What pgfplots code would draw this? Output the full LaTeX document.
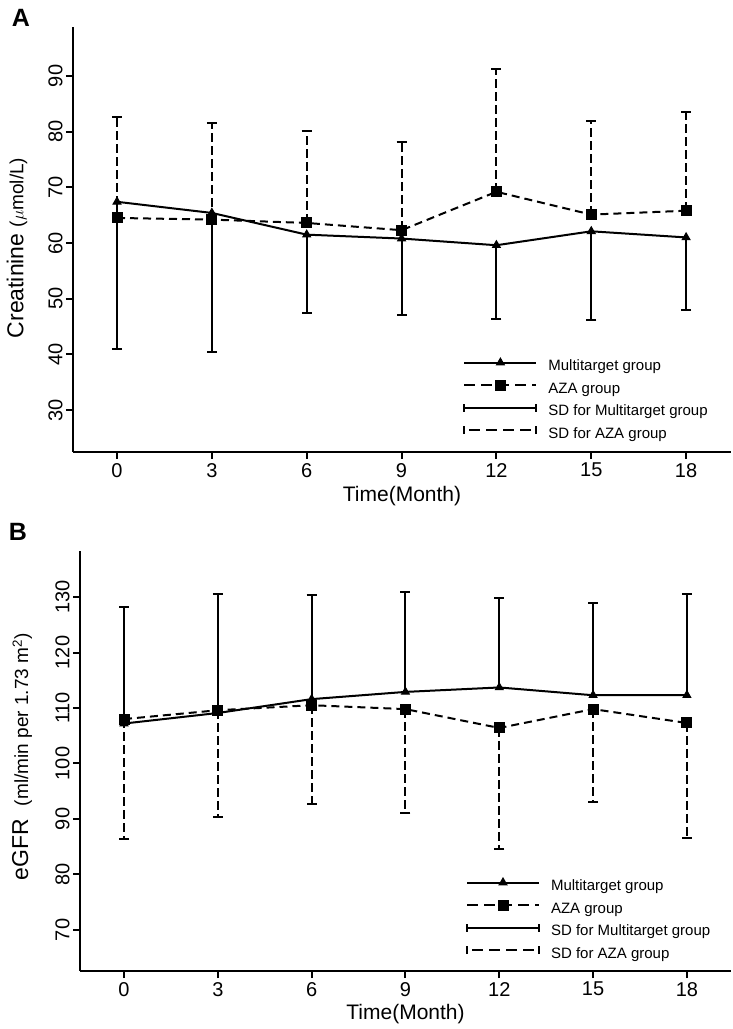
\documentclass[border=0pt]{standalone}
\usepackage{fontspec}
\setmainfont{Liberation Sans}
\usepackage{pgfplots}
\pgfplotsset{compat=1.18}

\pgfplotsset{
  mystyle/.style={
    scale only axis,
    axis x line*=bottom, axis y line*=left,
    axis line style={line width=2pt},
    tick align=outside,
    major tick length=7pt,
    tick style={line width=2pt, black},
    xtick={0,3,...,18},
    /pgf/number format/assume math mode=true,
    tick label style={font=\fontsize{20}{24}\selectfont},
    xticklabel style={inner sep=1pt, yshift=-3pt},
    yticklabel style={rotate=90, anchor=south},
    clip=false,
    legend cell align=left,
    legend style={draw=none, fill=none, inner sep=0pt, row sep=6.5pt,
      font=\fontsize{15}{18}\selectfont,
      nodes={inner sep=0pt, text height=11pt, text depth=3pt},
      /tikz/every odd column/.append style={column sep=11pt}},
  },
  multi/.style={line width=2pt, mark=triangle*, mark size=4.5pt, mark options={solid, line width=1pt}},
  aza/.style={line width=2pt, dash pattern=on 8pt off 5pt, mark=square*, mark size=5pt, mark options={solid, line width=1pt}},
  legmulti/.style={legend image code/.code={
     \draw[line width=2pt] (0pt,4pt) -- (72pt,4pt);
     \draw[line width=1pt] plot[mark=triangle*, mark size=4.5pt] coordinates {(36pt,4pt)};}},
  legaza/.style={legend image code/.code={
     \draw[line width=2pt, dash pattern=on 11pt off 6pt] (0pt,4pt) -- (72pt,4pt);
     \draw[line width=1pt] plot[mark=square*, mark size=5pt] coordinates {(36pt,4pt)};}},
  legsdmulti/.style={legend image code/.code={
     \draw[line width=2pt] (0pt,4pt) -- (72pt,4pt);
     \draw[line width=2pt] (0pt,0pt) -- (0pt,8pt);
     \draw[line width=2pt] (72pt,0pt) -- (72pt,8pt);}},
  legsdaza/.style={legend image code/.code={
     \draw[line width=2pt, dash pattern=on 11pt off 6pt, dash phase=-5pt] (0pt,4pt) -- (72pt,4pt);
     \draw[line width=2pt] (0pt,0pt) -- (0pt,8pt);
     \draw[line width=2pt] (72pt,0pt) -- (72pt,8pt);}},
}

\begin{document}
\begin{tikzpicture}
\path[use as bounding box] (0pt,0pt) rectangle (733pt,1029pt);

% Panel A
\begin{axis}[mystyle,
  at={(73pt,577pt)}, anchor=south west,
  width=658pt, height=425pt,
  xmin=-1.392, xmax=19.42, ymin=22.46, ymax=98.8,
  ytick={30,40,...,90},
  xlabel={Time(Month)},
  ylabel={Creatinine {\fontsize{19}{20}\selectfont ($\mu$mol/L)}},
  every axis x label/.style={at={(axis description cs:0.5,-0.104)}, anchor=center, inner sep=1pt, font=\fontsize{21}{24}\selectfont},
  every axis y label/.style={at={(axis description cs:-0.0851,0.48)}, rotate=90, anchor=center, font=\fontsize{23}{24}\selectfont},
  legend style={at={(axis cs:10.95,39.35)}, anchor=north west},
]
\addplot[aza, forget plot, error bars/.cd, y dir=plus, y explicit,
  error bar style={line width=2pt, dash pattern=on 9pt off 4pt},
  error mark options={rotate=90, mark size=5pt, line width=2pt, solid}]
  coordinates {
  (0,64.5) +- (0,18.1)
  (3,64.2) +- (0,17.3)
  (6,63.6) +- (0,16.5)
  (9,62.3) +- (0,15.9)
  (12,69.2) +- (0,22.1)
  (15,65.1) +- (0,16.8)
  (18,65.8) +- (0,17.7)
  };
\addplot[multi, forget plot, error bars/.cd, y dir=minus, y explicit,
  error bar style={line width=2pt, solid},
  error mark options={rotate=90, mark size=5pt, line width=2pt, solid}]
  coordinates {
  (0,67.4) +- (0,26.5)
  (3,65.4) +- (0,24.9)
  (6,61.5) +- (0,14.0)
  (9,60.8) +- (0,13.8)
  (12,59.6) +- (0,13.2)
  (15,62.1) +- (0,15.9)
  (18,61.0) +- (0,13.1)
  };
\addlegendimage{legmulti}
\addlegendentry{Multitarget group}
\addlegendimage{legaza}
\addlegendentry{AZA group}
\addlegendimage{legsdmulti}
\addlegendentry{SD for Multitarget group}
\addlegendimage{legsdaza}
\addlegendentry{SD for AZA group}
\end{axis}

% Panel B
\begin{axis}[mystyle,
  at={(80pt,58pt)}, anchor=south west,
  width=651pt, height=420pt,
  xmin=-1.407, xmax=19.41, ymin=62.61, ymax=138.29,
  ytick={70,80,...,130},
  xlabel={Time(Month)},
  ylabel={eGFR\ \ {\fontsize{19}{20}\selectfont (ml/min per 1.73 m\textsuperscript{2})}},
  every axis x label/.style={at={(axis description cs:0.5,-0.102)}, anchor=center, inner sep=1pt, font=\fontsize{21}{24}\selectfont},
  every axis y label/.style={at={(axis description cs:-0.089,0.51)}, rotate=90, anchor=center, font=\fontsize{23}{24}\selectfont},
  legend style={at={(axis cs:10.93,79.4)}, anchor=north west},
]
\addplot[aza, forget plot, error bars/.cd, y dir=minus, y explicit,
  error bar style={line width=2pt, dash pattern=on 9pt off 4pt},
  error mark options={rotate=90, mark size=5pt, line width=2pt, solid}]
  coordinates {
  (0,108.0) +- (0,21.6)
  (3,109.6) +- (0,19.2)
  (6,110.5) +- (0,17.8)
  (9,109.8) +- (0,18.7)
  (12,106.4) +- (0,21.8)
  (15,109.8) +- (0,16.7)
  (18,107.3) +- (0,20.7)
  };
\addplot[multi, forget plot, error bars/.cd, y dir=plus, y explicit,
  error bar style={line width=2pt, solid},
  error mark options={rotate=90, mark size=5pt, line width=2pt, solid}]
  coordinates {
  (0,107.2) +- (0,21.0)
  (3,109.1) +- (0,21.4)
  (6,111.6) +- (0,18.8)
  (9,112.9) +- (0,18.0)
  (12,113.7) +- (0,16.1)
  (15,112.3) +- (0,16.6)
  (18,112.3) +- (0,18.2)
  };
\addlegendimage{legmulti}
\addlegendentry{Multitarget group}
\addlegendimage{legaza}
\addlegendentry{AZA group}
\addlegendimage{legsdmulti}
\addlegendentry{SD for Multitarget group}
\addlegendimage{legsdaza}
\addlegendentry{SD for AZA group}
\end{axis}

\node[font=\bfseries\fontsize{25}{25}\selectfont] at (21pt,1011.5pt) {A};
\node[font=\bfseries\fontsize{25}{25}\selectfont] at (18pt,497pt) {B};
\end{tikzpicture}
\end{document}
